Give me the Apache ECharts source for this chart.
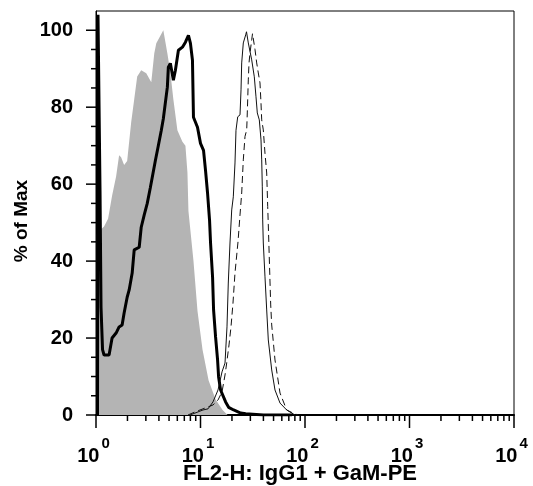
<!DOCTYPE html>
<html>
<head>
<meta charset="utf-8">
<script src="https://cdn.jsdelivr.net/npm/echarts@6/dist/echarts.min.js"></script>
<style>html,body{margin:0;padding:0;background:#fff}#c{width:533px;height:486px}</style>
</head>
<body>
<div id="c"></div>
<script>
// ---- data (x = FL2-H fluorescence, y = % of Max) ----
const grayX = [1.02,1.093,1.194,1.305,1.425,1.557,1.664,1.739,1.858,1.987,2.17,2.32,2.479,2.708,3.026,3.38,3.612,3.776,4.217,4.408,4.608,4.817,5.148,5.501,6.01,6.714,7.175,7.499,7.667,8.566,9.359,10.45,11.94,13.94,16.27,18.18];
const grayY = [47,48,49,51,57,62,67.5,67,65,66,76,82,88,89.6,88.8,86.5,94,96.6,99,100,97,94,89,82,74,71,70,63,53,40,27,17,9,4,1.3,0];

const blackX = [1.034,1.045,1.069,1.093,1.117,1.155,1.194,1.334,1.425,1.557,1.664,1.778,1.858,1.987,2.077,2.219,2.32,2.591,2.708,2.894,3.093,3.306,3.693,3.947,4.217,4.408,4.817,4.924,5.148,5.38,5.501,5.751,6.146,6.714,7.175,7.667,8.013,8.377,8.566,9.359,10,10.69,11.17,11.68,12.21,12.48,13.05,13.34,13.94,14.57,14.9,15.57,17.39,18.58,20.77,24.25,27.08,40,75];
const blackY = [0,104,104,58,28,17,15.6,15.6,20,21.3,22.9,23.4,26.5,30.6,32.5,36.9,42.9,43.6,48.8,52,55,59,66,70,74,77,85.2,90.4,91.4,88.5,87,89.6,94.8,95.6,96.9,98.7,96.6,92.2,77.4,74.8,70.6,68.8,63.6,57.7,50.6,44.7,35.8,27.3,20.3,14.3,9.9,6.5,3.4,2,1.3,0.5,0.3,0,0];

const solidX = [7.935,10.56,11.8,13.17,14.71,16.06,17.16,17.93,18.45,19.15,19.89,20.6,21.38,21.86,22.7,23.88,24.42,24.79,25.68,27.07,27.55,28.67,30.9,32.72,33.97,34.96,36.53,37.93,38.52,39.03,39.37,39.9,41.42,43,44.55,48.02,51.63,57.67,66.84,74.63,80.22];
const solidY = [0,1.3,1.6,3.4,6.5,11.2,13.5,22.9,34.3,44.7,53.3,56.7,65.5,74,77.5,78,84.5,91.5,96.7,98.8,99.6,96.7,92.3,87.9,82.7,78.5,76.7,71.5,66.3,59.3,50.7,44.7,35.9,27.3,19.5,11.7,6.5,3.1,1.3,0.5,0];

const dashX = [7.594,8.86,11.04,13.17,14.71,16.06,17.16,17.81,18.74,19.58,20.46,21.38,22.85,23.88,24.79,25.68,26.66,27.68,28.04,28.67,29.12,29.77,30.9,31.45,33.23,34.5,35.74,37.1,37.93,38.52,39.9,41.42,43,43.96,44.55,45.74,46.97,48.02,49.75,51.63,57.67,66.84,76.78,85.7];
const dashY = [0,0.8,1.8,2.6,3.9,6,10.4,13.5,18.2,22.9,29.1,36.9,45,52,57.7,66.3,72.4,74.1,78.5,87.1,91.5,94.1,97.5,99.1,95,91.5,88.9,86.3,81,76.7,74.1,68,62.9,54.2,49.4,39,28.6,23.4,19,14.3,5.7,1.3,0.5,0];

const xTicks = [1,10,100,1000,10000];
const yTicks = [0,20,40,60,80,100];
const xAxisName = 'FL2-H: IgG1 + GaM-PE';
const yAxisName = '% of Max';

// ---- helpers ----
const zip = (xs, ys) => xs.map((x, i) => [x, ys[i]]);
const xMinor = [];
for (let d = 1; d < 10000; d *= 10) for (let k = 2; k <= 9; k++) xMinor.push(d * k);
const yMinor = [];
for (let v = 5; v <= 100; v += 5) if (v % 20 !== 0) yMinor.push(v);

const FONT = "'Liberation Sans', Arial, sans-serif";

function tickSeries(values, dim, len) {
  return {
    type: 'custom', coordinateSystem: 'cartesian2d', clip: false, silent: true, z: 6,
    data: values.map(v => dim === 'x' ? [v, 0] : [1, v]),
    renderItem: (params, api) => {
      const p = api.coord([api.value(0), api.value(1)]);
      const shape = dim === 'x'
        ? {x1: p[0], y1: p[1], x2: p[0], y2: p[1] + len}
        : {x1: p[0], y1: p[1], x2: p[0] - len, y2: p[1]};
      return {type: 'line', shape: shape, style: {stroke: '#000', lineWidth: 1.5}};
    }
  };
}

const chart = echarts.init(document.getElementById('c'), null, {renderer: 'canvas'});
chart.setOption({
  animation: false,
  grid: {left: 96, right: 19, top: 11, bottom: 71, outerBoundsMode: 'none', containLabel: false,
         show: true, borderColor: '#000', borderWidth: 1, backgroundColor: 'transparent'},
  xAxis: {
    type: 'log', logBase: 10, min: 1, max: 10000, position: 'bottom',
    axisLine: {show: true, onZero: false, lineStyle: {color: '#000', width: 2}},
    axisTick: {show: false}, splitLine: {show: false}, minorTick: {show: false},
    axisLabel: {
      customValues: xTicks, margin: 21, hideOverlap: false,
      formatter: v => '{b|10}{s|' + Math.round(Math.log10(v)) + '}',
      rich: {
        b: {fontSize: 20, fontWeight: 'bold', fontFamily: FONT, color: '#000', verticalAlign: 'bottom', lineHeight: 30},
        s: {fontSize: 15, fontWeight: 'bold', fontFamily: FONT, color: '#000', verticalAlign: 'top', lineHeight: 30, padding: [0, 5, 0, 2]}
      }
    },
    name: xAxisName, nameLocation: 'middle', nameGap: 48, nameMoveOverlap: false,
    nameTextStyle: {fontSize: 22, fontWeight: 'bold', fontFamily: FONT, color: '#000', padding: [0, 10, 0, 0]}
  },
  yAxis: {
    type: 'value', min: 0, max: 105, position: 'left',
    axisLine: {show: true, onZero: false, lineStyle: {color: '#000', width: 1}},
    axisTick: {show: false}, splitLine: {show: false},
    axisLabel: {customValues: yTicks, margin: 23, fontSize: 20, fontWeight: 'bold', fontFamily: FONT, color: '#000', hideOverlap: false},
    name: yAxisName, nameLocation: 'middle', nameGap: 65, nameRotate: 90, nameMoveOverlap: false,
    nameTextStyle: {fontSize: 19, fontWeight: 'bold', fontFamily: FONT, color: '#000', padding: [0, 16, 0, 0]}
  },
  series: [
    {type: 'line', data: zip(grayX, grayY), showSymbol: false, symbol: 'none', z: 1,
     lineStyle: {width: 0, color: '#b4b4b4'}, areaStyle: {color: '#b4b4b4', opacity: 1}},
    {type: 'line', data: zip(blackX, blackY), showSymbol: false, symbol: 'none', z: 3,
     lineStyle: {width: 3, color: '#000'}},
    {type: 'line', data: zip(solidX, solidY), showSymbol: false, symbol: 'none', z: 4,
     lineStyle: {width: 1, color: '#111'}},
    {type: 'line', data: zip(dashX, dashY), showSymbol: false, symbol: 'none', z: 4,
     lineStyle: {width: 1, color: '#111', type: [7, 4]}},
    tickSeries(xTicks, 'x', 13),
    tickSeries(xMinor, 'x', 6),
    tickSeries(yTicks, 'y', 10),
    tickSeries(yMinor, 'y', 5)
  ]
});
</script>
</body>
</html>
